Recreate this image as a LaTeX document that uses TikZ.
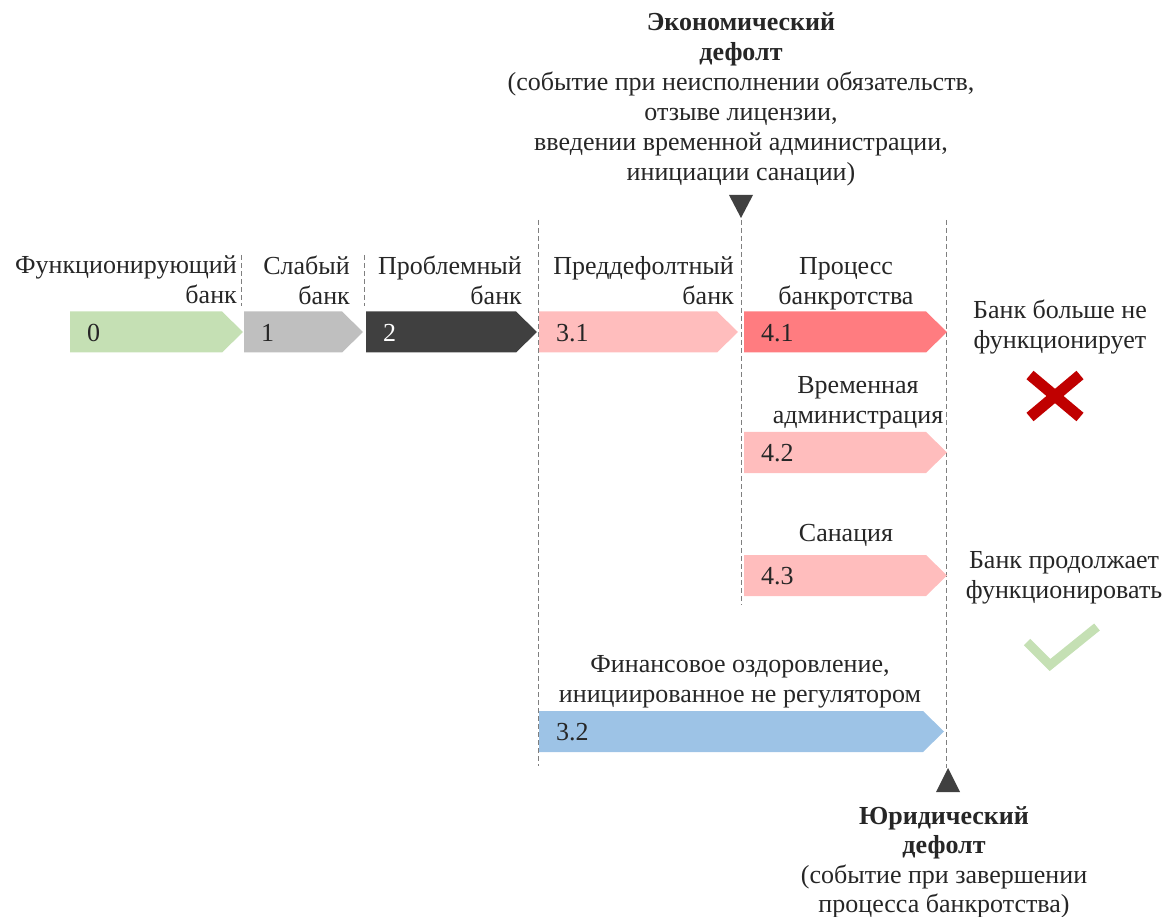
\documentclass[tikz,border=0pt]{standalone}
\usepackage{fontspec}
\setmainfont{Liberation Serif}
\newfontfamily\tnr{Liberation Serif}
\begin{document}
\begin{tikzpicture}[x=1pt,y=-1pt,
  txt/.style={inner sep=0pt, text=textc, font=\tnr\fontsize{26}{30}\selectfont},
  num/.style={inner sep=0pt, anchor=west, font=\tnr\fontsize{26}{30}\selectfont},
  sep/.style={draw=sepc, line width=1pt, dash pattern=on 5pt off 3pt},
  tri/.style={fill=tric},
]
\definecolor{textc}{HTML}{262626}
\definecolor{sepc}{HTML}{7F7F7F}
\definecolor{tric}{HTML}{404040}
\definecolor{cgreen}{HTML}{C5E0B4}
\definecolor{cgray}{HTML}{BFBFBF}
\definecolor{cdark}{HTML}{404040}
\definecolor{cpink}{HTML}{FFBDBD}
\definecolor{cred}{HTML}{FF7C80}
\definecolor{cblue}{HTML}{9DC3E6}
\definecolor{xred}{HTML}{C00000}
\useasboundingbox (0,0) rectangle (1171,917);
\newcommand\chev[7]{%
  \fill[#5] (#2,#4-20.5) -- (#3-21,#4-20.5) -- (#3,#4) -- (#3-21,#4+20.5) -- (#2,#4+20.5) -- cycle;
  \node[num,text=#6] (#1) at (#2+17,#4+1) {#7};}
% separators
\coordinate (s1a) at (241,255); \coordinate (s1b) at (241,306);
\coordinate (s2a) at (364,255); \coordinate (s2b) at (364,306);
\coordinate (s3a) at (538,220); \coordinate (s3b) at (538,766);
\coordinate (s4a) at (741,220); \coordinate (s4b) at (741,605);
\coordinate (s5a) at (946,220); \coordinate (s5b) at (946,768);
\draw[sep] (s1a) -- (s1b);
\draw[sep] (s2a) -- (s2b);
\draw[sep] (s3a) -- (s3b);
\draw[sep] (s4a) -- (s4b);
\draw[sep] (s5a) -- (s5b);
% chevrons
\chev{a0}{70}{243}{332}{cgreen}{textc}{0}
\chev{a1}{244}{363}{332}{cgray}{textc}{1}
\chev{a2}{366}{537}{332}{cdark}{white}{2}
\chev{a31}{539}{738}{332}{cpink}{textc}{3.1}
\chev{a41}{744}{947}{332}{cred}{textc}{4.1}
\chev{a42}{744}{947}{452.5}{cpink}{textc}{4.2}
\chev{a43}{744}{947}{575.5}{cpink}{textc}{4.3}
\chev{a32}{539}{944}{731.5}{cblue}{textc}{3.2}
% labels
\node[txt, anchor=north east, align=right] (l0) at (237,256) {Функционирующий\\банк};
\node[txt, anchor=north east, align=right] (l1) at (350,256) {Слабый\\банк};
\node[txt, anchor=north east, align=right] (l2) at (522,256) {Проблемный\\банк};
\node[txt, anchor=north east, align=right] (l31) at (734,256) {Преддефолтный\\банк};
\node[txt, anchor=north, align=center] (l41) at (846,257) {Процесс\\банкротства};
\node[txt, anchor=north, align=center] (l42) at (858,376) {Временная\\администрация};
\node[txt, anchor=north, align=center] (l43) at (846,524) {Санация};
\node[txt, anchor=north, align=center] (l32) at (740,655) {Финансовое оздоровление,\\инициированное не регулятором};
\node[txt, anchor=north, align=center] (r1) at (1060,300) {Банк больше не\\функционирует};
\node[txt, anchor=north, align=center] (r2) at (1064,551) {Банк продолжает\\функционировать};
% top
\node[txt, anchor=north, align=center] (top) at (741,12) {\textbf{Экономический}\\\textbf{дефолт}\\(событие при неисполнении обязательств,\\отзыве лицензии,\\введении временной администрации,\\инициации санации)};
\fill[tri] (729,195) -- (753,195) -- (741,218) -- cycle;
% bottom
\fill[tri] (936,792) -- (960,792) -- (948,768) -- cycle;
\node[txt, anchor=north, align=center, font=\tnr\fontsize{26}{29.5}\selectfont] (bot) at (944,806) {\textbf{Юридический}\\\textbf{дефолт}\\(событие при завершении\\процесса банкротства)};
% marks
\coordinate (xa) at (1030,375); \coordinate (xb) at (1080,417);
\coordinate (xc) at (1030,417); \coordinate (xd) at (1080,375);
\draw[xred, line width=11pt] (xa) -- (xb);
\draw[xred, line width=11pt] (xc) -- (xd);
\coordinate (ca) at (1027,642); \coordinate (cb) at (1050,665); \coordinate (cc) at (1097,627);
\draw[cgreen, line width=9pt] (ca) -- (cb) -- (cc);
\end{tikzpicture}
\end{document}
